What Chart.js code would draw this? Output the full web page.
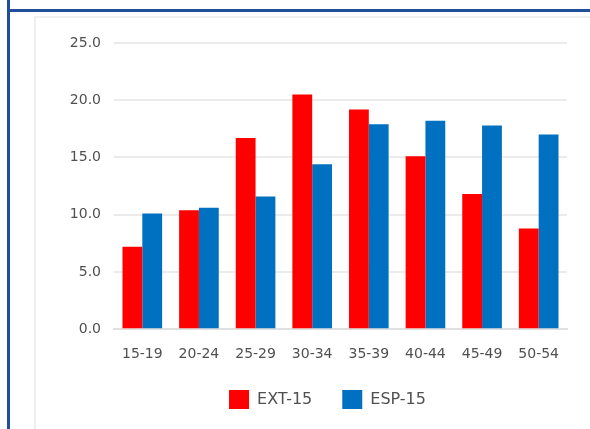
<!DOCTYPE html>
<html>
<head>
<meta charset="utf-8">
<script src="https://cdn.jsdelivr.net/npm/chart.js@4"></script>
<style>
  html, body { margin: 0; padding: 0; background: #fff; }
  #wrap { position: relative; width: 590px; height: 429px; overflow: hidden; }
  .frame-v { position: absolute; left: 7px; top: 0; width: 3px; height: 429px; background: #1f4e9a; }
  .frame-h { position: absolute; left: 7px; top: 9px; width: 583px; height: 3px; background: #1f4e9a; }
  .panel { position: absolute; left: 34px; top: 16px; width: 560px; height: 420px; border-left: 2px solid #f0f0f0; border-top: 2px solid #f0f0f0; }
  canvas { position: absolute; left: 60px; top: 0; }
</style>
</head>
<body>
<div id="wrap">
  <div class="frame-v"></div>
  <div class="frame-h"></div>
  <div class="panel"></div>
  <canvas id="edadChart" width="539" height="429"></canvas>
</div>
<script>
// grupos de edad
const edades = ['15-19', '20-24', '25-29', '30-34', '35-39', '40-44', '45-49', '50-54'];
const ext15 = [7.2, 10.4, 16.7, 20.5, 19.2, 15.1, 11.8, 8.8];
const esp15 = [10.1, 10.6, 11.6, 14.4, 17.9, 18.2, 17.8, 17.0];
const ticksY = [0, 5, 10, 15, 20, 25];

// mueve la leyenda un poco a la derecha (centrada sobre el area del grafico)
const moverLeyenda = {
    id: 'moverLeyenda',
    afterLayout(chart) {
        chart.legend.left += 14;
        chart.legend.right += 14;
    }
};

const ctx = document.getElementById('edadChart').getContext('2d');
const edadChart = new Chart(ctx, {
    type: 'bar',
    data: {
        labels: edades,
        datasets: [{
            label: 'EXT-15',
            data: ext15,
            backgroundColor: '#ff0000',
            categoryPercentage: 0.7,
            barPercentage: 1.0
        }, {
            label: 'ESP-15',
            data: esp15,
            backgroundColor: '#0070c0',
            categoryPercentage: 0.7,
            barPercentage: 1.0
        }]
    },
    plugins: [moverLeyenda],
    options: {
        responsive: false,
        animation: false,
        layout: { padding: { left: 0, right: 32, top: 43, bottom: 10 } },
        plugins: {
            legend: {
                position: 'bottom',
                labels: {
                    boxWidth: 20,
                    boxHeight: 19,
                    padding: 30,
                    color: '#505050',
                    font: { family: 'DejaVu Sans', size: 16 }
                }
            },
            tooltip: { enabled: false }
        },
        scales: {
            x: {
                afterFit: (scale) => { scale.height = scale.height - 12; },
                grid: { display: false },
                border: { color: '#e0e0e0', width: 2 },
                ticks: { color: '#505050', padding: 9, maxRotation: 0, font: { family: 'DejaVu Sans', size: 14 } }
            },
            y: {
                min: 0,
                max: 25,
                afterFit: (scale) => { scale.width = 54; },
                afterBuildTicks: (scale) => { scale.ticks = ticksY.map(v => ({ value: v })); },
                grid: { color: '#ebebeb', lineWidth: 2, drawTicks: false },
                border: { display: false },
                ticks: {
                    color: '#505050',
                    padding: 13,
                    font: { family: 'DejaVu Sans', size: 14 },
                    callback: (v) => v.toFixed(1)
                }
            }
        }
    }
});
</script>
</body>
</html>
